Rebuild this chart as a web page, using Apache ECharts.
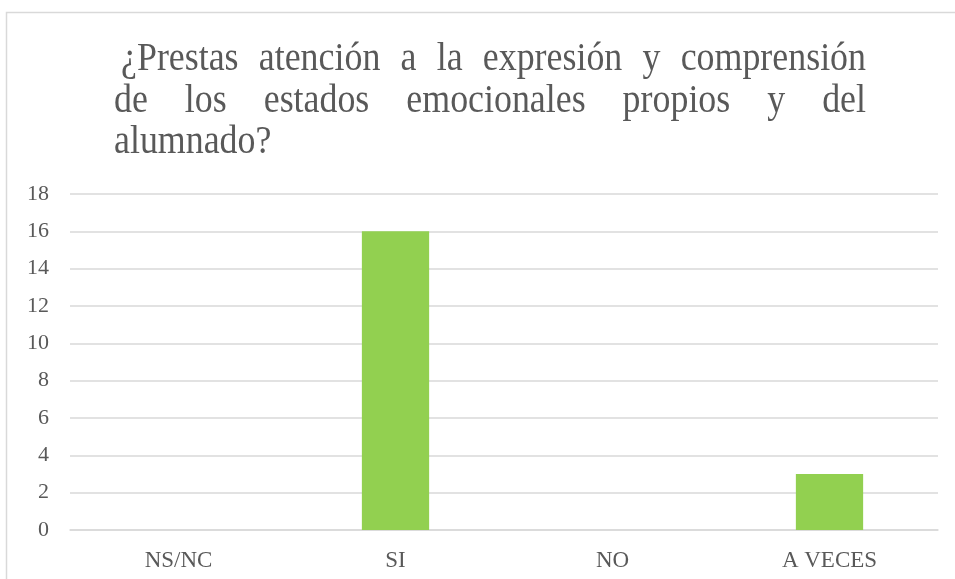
<!DOCTYPE html>
<html>
<head>
<meta charset="utf-8">
<script src="https://cdn.jsdelivr.net/npm/echarts@6/dist/echarts.min.js"></script>
<style>
  html, body { margin: 0; padding: 0; background: #ffffff; }
  #chart { width: 955px; height: 579px; }
</style>
</head>
<body>
<div id="chart"></div>
<script>
// Survey answers and counts
const categories = ['NS/NC', 'SI', 'NO', 'A VECES'];
const counts = [0, 16, 0, 3];
const yTicks = { min: 0, max: 18, interval: 2 };
const titleLines = [
  '¿Prestas atención a la expresión y comprensión',
  'de los estados emocionales propios y del',
  'alumnado?'
];

const FONT = "'Liberation Serif', 'Times New Roman', serif";
const TEXT_COLOR = '#595959';
const GRID_COLOR = '#d9d9d9';

// Justified title in a slightly narrow serif: every line but the last
// is stretched to the full width (the first line carries a small indent)
const titleSize = 39;
const titleScaleX = 0.92;
const lineLefts = [121, 114, 114];
const titleRight = 866;
const baselines = [75, 117, 158];

const ctx = document.createElement('canvas').getContext('2d');
ctx.font = titleSize + 'px ' + FONT;
const ascent = Math.round(titleSize * 0.891);

const titleGraphics = [];
titleLines.forEach(function (line, li) {
  const words = line.split(' ');
  const widths = words.map(function (w) { return ctx.measureText(w).width * titleScaleX; });
  const spaceW = ctx.measureText(' ').width * titleScaleX;
  const last = li === titleLines.length - 1;
  let gap = spaceW;
  if (!last && words.length > 1) {
    const total = widths.reduce(function (a, b) { return a + b; }, 0);
    gap = (titleRight - lineLefts[li] - total) / (words.length - 1);
  }
  let x = lineLefts[li];
  words.forEach(function (w, i) {
    titleGraphics.push({
      type: 'text',
      x: x,
      y: baselines[li] - ascent,
      scaleX: titleScaleX,
      style: {
        text: w,
        fill: TEXT_COLOR,
        font: titleSize + 'px ' + FONT,
        textVerticalAlign: 'top'
      },
      silent: true
    });
    x += widths[i] + gap;
  });
});

const chart = echarts.init(document.getElementById('chart'), null, { renderer: 'canvas' });
chart.setOption({
  backgroundColor: '#ffffff',
  animation: false,
  graphic: [
    {
      type: 'rect',
      shape: { x: 6.5, y: 12.5, width: 1000, height: 600 },
      style: { fill: 'none', stroke: GRID_COLOR, lineWidth: 1.5 },
      silent: true,
      z: -1
    }
  ].concat(titleGraphics),
  grid: { left: 70, right: 17, top: 194, bottom: 49, containLabel: false },
  xAxis: {
    type: 'category',
    data: categories,
    axisLine: { show: true, lineStyle: { color: GRID_COLOR, width: 1.5 } },
    axisTick: { show: false },
    axisLabel: { color: TEXT_COLOR, fontFamily: FONT, fontSize: 23, margin: 19 }
  },
  yAxis: {
    type: 'value',
    min: yTicks.min,
    max: yTicks.max,
    interval: yTicks.interval,
    axisLine: { show: false },
    axisTick: { show: false },
    splitLine: { lineStyle: { color: GRID_COLOR, width: 1.5 } },
    axisLabel: { color: TEXT_COLOR, fontFamily: FONT, fontSize: 22, margin: 21 }
  },
  series: [
    {
      type: 'bar',
      data: counts,
      barCategoryGap: '69%',
      itemStyle: { color: '#92d050' }
    }
  ]
});
</script>
</body>
</html>
